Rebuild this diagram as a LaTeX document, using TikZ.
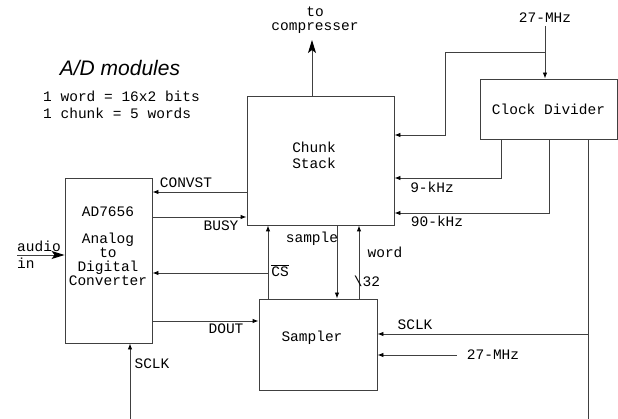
\documentclass[tikz,border=0pt]{standalone}
\usepackage{fontspec}
\setmainfont{Liberation Serif}
\setsansfont{Liberation Sans}
\setmonofont{Liberation Mono}
\usetikzlibrary{arrows.meta, positioning, calc}

\begin{document}
\begin{tikzpicture}[
    x=1pt, y=-1pt,
    block/.style={rectangle, draw=black!75, line width=0.9pt, inner sep=0pt},
    blocktext/.style={font=\fontsize{14.5}{14}\selectfont\ttfamily, align=center, inner sep=0pt},
    sig/.style={font=\fontsize{14.5}{14}\selectfont\ttfamily, inner sep=0pt},
    wire/.style={draw=black!75, line width=0.9pt},
    signal/.style={wire, -{Latex[length=6pt, width=4.5pt, black]}},
    bigsignal/.style={wire, -{Stealth[length=13pt, width=8pt, inset=3pt, black]}}
]
    \useasboundingbox (0,0) rectangle (618,419);

    % --- Title and notes ---
    \node[font=\fontsize{21}{21}\selectfont\sffamily\itshape] (title) at (120,68) {A/D modules};
    \node[sig, anchor=west] (note1) at (43,96) {1 word = 16x2 bits};
    \node[sig, anchor=west] (note2) at (43,113) {1 chunk = 5 words};

    % --- Blocks ---
    \node[block, minimum width=87pt, minimum height=165pt] (adc) at (108.5,260.5) {};
    \node[block, minimum width=147pt, minimum height=129pt] (chunk) at (320.5,160.5) {};
    \node[block, minimum width=137pt, minimum height=60pt, font=\fontsize{14.5}{14}\selectfont\ttfamily] (clock) at (548.5,109) {Clock Divider};
    \node[block, minimum width=118pt, minimum height=91pt] (sampler) at (318,344.5) {};

    \node[blocktext] (adcname) at (108,212) {AD7656};
    \node[blocktext] (adcdesc) at (108,259) {Analog\\to\\Digital\\Converter};
    \node[blocktext, font=\fontsize{14.5}{16}\selectfont\ttfamily] (chunkname) at (314,155) {Chunk\\Stack};
    \node[blocktext] (samplername) at (312,338) {Sampler};

    % --- Output to compresser ---
    \node[sig, align=center] (tocomp) at (315,20) {to\\compresser};
    \coordinate (comptip) at (312,40);
    \draw[bigsignal] (chunk.north -| comptip) -- (comptip);

    % --- 27-MHz into clock divider and chunk stack ---
    \node[sig] (mhztop) at (545,18) {27-MHz};
    \coordinate (mhzsplit) at (545,52);
    \coordinate (mhzturn) at (445,135);
    \draw[signal] ([yshift=-3pt]mhztop.south) -- (mhztop.south |- clock.north);
    \draw[signal] (mhzsplit) -| (mhzturn) -- (mhzturn -| chunk.east);

    % --- Divided clocks ---
    \coordinate (khz9) at (501,178);
    \coordinate (khz90) at (549,213);
    \draw[signal] (clock.south -| khz9) |- (chunk.east |- khz9);
    \draw[signal] (clock.south -| khz90) |- (chunk.east |- khz90);
    \node[sig] (khz9lbl) at (432,187) {9-kHz};
    \node[sig] (khz90lbl) at (437,221) {90-kHz};

    % --- SCLK bus (right gutter) ---
    \coordinate (sclkbus) at (588,419);
    \coordinate (sclkjoin) at (588,334);
    \draw[wire] (clock.south -| sclkbus) -- (sclkbus);
    \draw[signal] (sclkjoin) -- (sclkjoin -| sampler.east);
    \node[sig] (sclkright) at (415,325) {SCLK};

    % --- 27-MHz into sampler ---
    \node[sig] (mhzsam) at (493,355) {27-MHz};
    \draw[signal] ([xshift=-10pt]mhzsam.west) -- (sampler.east |- mhzsam);

    % --- ADC <-> chunk stack ---
    \coordinate (convst) at (0,192);
    \coordinate (busy) at (0,217);
    \draw[signal] (chunk.west |- convst) -- (adc.east |- convst);
    \draw[signal] (adc.east |- busy) -- (chunk.west |- busy);
    \node[sig] (convstlbl) at (186,183) {CONVST};
    \node[sig] (busylbl) at (221,226) {BUSY};

    % --- Sampler <-> chunk stack / ADC ---
    \coordinate (cs) at (268,273);
    \coordinate (smp) at (337,0);
    \coordinate (wrd) at (359,0);
    \draw[signal] (sampler.north -| cs) -- (chunk.south -| cs);
    \draw[signal] (cs) -- (adc.east |- cs);
    \draw[signal] (chunk.south -| smp) -- (sampler.north -| smp);
    \draw[signal] (sampler.north -| wrd) -- (chunk.south -| wrd);
    \node[sig] (cslbl) at (280,271) {$\overline{\mbox{CS}}$};
    \node[sig] (smplbl) at (312,239) {sample};
    \node[sig] (wrdlbl) at (385,252) {word};
    \node[sig] (buswidth) at (367,281) {\textbackslash 32};

    \coordinate (dout) at (0,321);
    \draw[signal] (adc.east |- dout) -- (sampler.west |- dout);
    \node[sig] (doutlbl) at (226,329) {DOUT};

    % --- ADC inputs ---
    \coordinate (sclkleft) at (130,419);
    \draw[signal] (sclkleft) -- (sclkleft |- adc.south);
    \node[sig] (sclkleftlbl) at (152,364) {SCLK};

    \coordinate (audio) at (17,255);
    \draw[bigsignal] (audio) -- (adc.west |- audio);
    \node[sig, anchor=west] (audiolbl) at (17,246) {audio};
    \node[sig, anchor=west] (inlbl) at (17,263) {in};

\end{tikzpicture}
\end{document}
